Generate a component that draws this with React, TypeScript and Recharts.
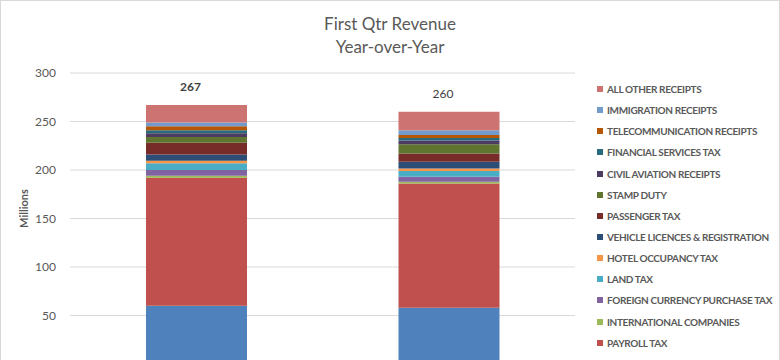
import { Bar, BarChart, CartesianGrid, LabelList, Legend, XAxis, YAxis } from 'recharts';

const categories = ['2013', '2014'];

// stack order, bottom to top
const customsDuties = [60, 58];
const payrollTax = [132, 128];
const internationalCompanies = [2, 2];
const foreignCurrencyTax = [6, 5];
const landTax = [7, 6];
const hotelOccupancyTax = [2.5, 2.5];
const vehicleLicences = [6.5, 7];
const passengerTax = [12, 8.5];
const stampDuty = [6, 9.5];
const civilAviation = [4, 4];
const financialServicesTax = [3, 2.5];
const telecomReceipts = [4, 3];
const immigrationReceipts = [4, 5];
const allOtherReceipts = [18, 19];

const totals = [267, 260];

const series = [
  { key: 'customs', name: 'CUSTOMS DUTIES', values: customsDuties, color: '#4F81BD' },
  { key: 'payroll', name: 'PAYROLL TAX', values: payrollTax, color: '#C0504D' },
  { key: 'intl', name: 'INTERNATIONAL COMPANIES', values: internationalCompanies, color: '#9BBB59' },
  { key: 'forex', name: 'FOREIGN CURRENCY PURCHASE TAX', values: foreignCurrencyTax, color: '#8064A2' },
  { key: 'land', name: 'LAND TAX', values: landTax, color: '#4BACC6' },
  { key: 'hotel', name: 'HOTEL OCCUPANCY TAX', values: hotelOccupancyTax, color: '#F79646' },
  { key: 'vehicle', name: 'VEHICLE LICENCES & REGISTRATION', values: vehicleLicences, color: '#2C4D75' },
  { key: 'passenger', name: 'PASSENGER TAX', values: passengerTax, color: '#772C2A' },
  { key: 'stamp', name: 'STAMP DUTY', values: stampDuty, color: '#5F7530' },
  { key: 'aviation', name: 'CIVIL AVIATION RECEIPTS', values: civilAviation, color: '#4D3B62' },
  { key: 'financial', name: 'FINANCIAL SERVICES TAX', values: financialServicesTax, color: '#276A7C' },
  { key: 'telecom', name: 'TELECOMMUNICATION RECEIPTS', values: telecomReceipts, color: '#B65708' },
  { key: 'immigration', name: 'IMMIGRATION RECEIPTS', values: immigrationReceipts, color: '#729ACA' },
  { key: 'other', name: 'ALL OTHER RECEIPTS', values: allOtherReceipts, color: '#CD7371' },
];

const data = categories.map((cat, i) => {
  const row: Record<string, any> = { name: cat, total: totals[i] };
  series.forEach((s) => (row[s.key] = s.values[i]));
  return row;
});

const FONT = 'Lato, "Open Sans", sans-serif';
const GREY = '#595959';

function LegendList() {
  const items = [...series].reverse();
  return (
    <ul style={{ margin: 0, padding: 0, listStyle: 'none', fontFamily: FONT }}>
      {items.map((s) => (
        <li
          key={s.key}
          style={{ height: 21.15, display: 'flex', alignItems: 'center', paddingLeft: 22 }}
        >
          <span style={{ width: 6, height: 6, background: s.color, marginRight: 4, flex: 'none' }} />
          <span
            style={{
              fontSize: 10,
              fontWeight: 'bold',
              color: GREY,
              whiteSpace: 'nowrap',
              letterSpacing: -0.35,
            }}
          >
            {s.name}
          </span>
        </li>
      ))}
    </ul>
  );
}

function TotalLabel(props: any) {
  const { x, y, width, index } = props;
  return (
    <text
      x={x + width / 2 - 6}
      y={y - 17}
      textAnchor='middle'
      dominantBaseline='middle'
      fontFamily={FONT}
      fontSize={12}
      fontWeight={index === 0 ? 'bold' : 'normal'}
      fill='#404040'
    >
      {totals[index]}
    </text>
  );
}

export default function App() {
  return (
    <div
      style={{
        position: 'absolute',
        left: 0,
        top: 0,
        width: 780,
        height: 440,
        boxSizing: 'border-box',
        border: '1px solid #d9d9d9',
        background: '#fff',
      }}
    >
      <div
        style={{
          position: 'absolute',
          left: 0,
          top: 11,
          width: 778,
          textAlign: 'center',
          fontFamily: FONT,
          fontSize: 17,
          lineHeight: '23px',
          color: GREY,
        }}
      >
        First Qtr Revenue
        <br />
        Year-over-Year
      </div>
      <BarChart
        width={778}
        height={430}
        data={data}
        margin={{ top: 72, right: 14, bottom: 37, left: 0 }}
        barSize={101}
      >
        <CartesianGrid vertical={false} stroke='#d9d9d9' />
        <XAxis dataKey='name' height={30} axisLine={{ stroke: '#d9d9d9' }} tickLine={false} tick={false} />
        <YAxis
          width={69}
          domain={[0, 300]}
          ticks={[0, 50, 100, 150, 200, 250, 300]}
          axisLine={false}
          tickLine={false}
          tickSize={0}
          tickMargin={14}
          tick={{ fill: GREY, fontSize: 12, fontFamily: FONT }}
          label={{
            value: 'Millions',
            angle: -90,
            position: 'insideLeft',
            offset: 23,
            dy: -10,
            style: { fill: GREY, fontSize: 11, fontWeight: 'bold', fontFamily: FONT, textAnchor: 'middle' },
          }}
        />
        <Legend
          layout='vertical'
          verticalAlign='top'
          align='right'
          wrapperStyle={{ top: 77.5, width: 190 }}
          content={() => <LegendList />}
        />
        {series.map((s, i) => (
          <Bar key={s.key} dataKey={s.key} name={s.name} stackId='a' fill={s.color} isAnimationActive={false}>
            {i === series.length - 1 && <LabelList dataKey='total' content={<TotalLabel />} />}
          </Bar>
        ))}
      </BarChart>
    </div>
  );
}
